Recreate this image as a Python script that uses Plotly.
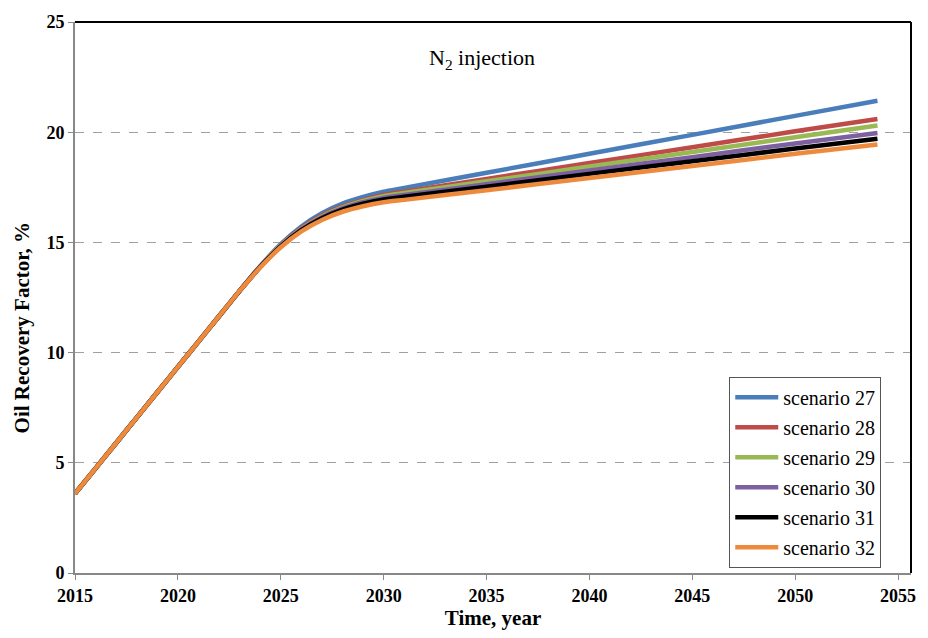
import plotly.graph_objects as go

years = [2015, 2016, 2017, 2018, 2019, 2020, 2021, 2022, 2023, 2024,
         2025, 2026, 2027, 2028, 2029, 2030, 2031, 2035, 2040, 2045, 2050, 2054]

names = ["scenario 27", "scenario 28", "scenario 29", "scenario 30", "scenario 31", "scenario 32"]
colors = ["#4A7EBB", "#BE4B48", "#98B954", "#7D60A0", "#000000", "#EE8A3C"]

s27 = [3.6, 4.75, 5.9, 7.05, 8.2, 9.35, 10.5, 11.65, 12.8, 13.92,
       14.92, 15.72, 16.32, 16.76, 17.06, 17.30, 17.47, 18.16, 19.02, 19.88, 20.74, 21.43]
s28 = [3.6, 4.75, 5.9, 7.05, 8.2, 9.35, 10.5, 11.65, 12.8, 13.91,
       14.88, 15.65, 16.22, 16.63, 16.92, 17.15, 17.30, 17.88, 18.60, 19.32, 20.04, 20.60]
s29 = [3.6, 4.75, 5.9, 7.05, 8.2, 9.35, 10.5, 11.65, 12.8, 13.90,
       14.86, 15.62, 16.18, 16.59, 16.88, 17.10, 17.24, 17.77, 18.44, 19.10, 19.77, 20.30]
s30 = [3.6, 4.75, 5.9, 7.05, 8.2, 9.35, 10.5, 11.65, 12.8, 13.89,
       14.84, 15.59, 16.14, 16.54, 16.82, 17.02, 17.15, 17.64, 18.26, 18.87, 19.49, 19.96]
s31 = [3.6, 4.75, 5.9, 7.05, 8.2, 9.35, 10.5, 11.65, 12.8, 13.88,
       14.82, 15.56, 16.10, 16.49, 16.76, 16.95, 17.07, 17.53, 18.11, 18.68, 19.26, 19.70]
s32 = [3.6, 4.75, 5.9, 7.05, 8.2, 9.35, 10.5, 11.65, 12.8, 13.86,
       14.78, 15.50, 16.02, 16.39, 16.64, 16.82, 16.93, 17.37, 17.92, 18.47, 19.02, 19.44]
series = [s27, s28, s29, s30, s31, s32]

x_ticks = [2015, 2020, 2025, 2030, 2035, 2040, 2045, 2050, 2055]
y_ticks = [0, 5, 10, 15, 20, 25]

serif = "Liberation Serif, Times New Roman, serif"

fig = go.Figure()
for i, (nm, col, ys) in enumerate(zip(names, colors, series)):
    fig.add_trace(go.Scatter(
        x=years, y=ys, mode="lines", name=nm, legendgroup=f"g{i}",
        line=dict(color=col, width=4.5, shape="spline", smoothing=0.6),
    ))

fig.update_layout(
    width=928, height=638,
    margin=dict(l=75, r=16, t=20, b=64),
    paper_bgcolor="white", plot_bgcolor="white",
    font=dict(family=serif, color="black"),
    showlegend=True,
    legend=dict(
        x=0.7826, y=0.356, xanchor="left", yanchor="top",
        bgcolor="white", bordercolor="#555555", borderwidth=1,
        font=dict(family=serif, size=20, color="black"),
        tracegroupgap=1, traceorder="grouped", itemwidth=43,
    ),
    xaxis=dict(
        range=[2015, 2055.63], tickvals=x_ticks, ticktext=[str(v) for v in x_ticks],
        showgrid=False, zeroline=False,
        showline=True, linecolor="#888888", linewidth=2,
        ticks="outside", ticklen=5, tickcolor="#888888",
        tickfont=dict(family=serif, size=18, color="black", weight="bold"),
        title=dict(text="<b>Time, year</b>", font=dict(family=serif, size=21), standoff=6),
    ),
    yaxis=dict(
        range=[0, 25], tickvals=y_ticks,
        showgrid=True, gridcolor="#A0A0A0", griddash="dash", gridwidth=1,
        zeroline=False,
        showline=True, linecolor="#888888", linewidth=2,
        ticks="outside", ticklen=5, tickcolor="#888888",
        tickfont=dict(family=serif, size=18, color="black", weight="bold"),
    ),
    annotations=[
        dict(text="N<sub>2</sub> injection", x=0.487, y=0.933, xref="paper", yref="paper",
             showarrow=False, font=dict(family=serif, size=22, color="black"),
             xanchor="center", yanchor="middle"),
        dict(text="<b>Oil Recovery Factor, %</b>", x=0, y=0.5, xref="paper", yref="paper",
             showarrow=False, textangle=-90, font=dict(family=serif, size=21, color="black"),
             xanchor="center", yanchor="middle"),
    ],
    shapes=[
        dict(type="line", xref="paper", yref="paper", x0=0, x1=1, y0=1, y1=1,
             line=dict(color="black", width=2)),
        dict(type="line", xref="paper", yref="paper", x0=1, x1=1, y0=0, y1=1,
             line=dict(color="black", width=2)),
    ],
)

# convert pixel position of y-title annotation to paper coords
pl, pr, pt, pb = 75, 928 - 16, 20, 638 - 64
ann = fig.layout.annotations[1]
ann.x = (22 - pl) / (pr - pl)
ann.y = (pb - 327) / (pb - pt)

fig.write_html("out.html")
